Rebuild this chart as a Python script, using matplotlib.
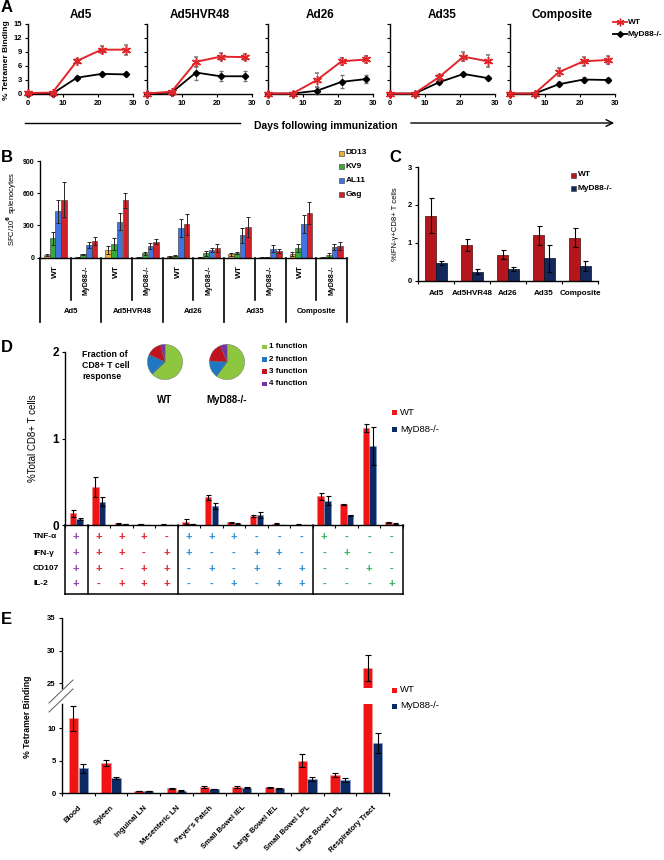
import matplotlib
matplotlib.use('Agg')
import matplotlib.pyplot as plt
import numpy as np
from matplotlib.lines import Line2D
from matplotlib.patches import FancyArrowPatch, Rectangle

plt.rcParams['font.family'] = ['Liberation Sans', 'DejaVu Sans']
plt.rcParams['font.weight'] = 'bold'
plt.rcParams['axes.linewidth'] = 1.0

# ---- panel A: tetramer kinetics
days = [0, 7, 14, 21, 28]
a_titles = ['Ad5', 'Ad5HVR48', 'Ad26', 'Ad35', 'Composite']
a_wt = [[0.2, 0.3, 7.1, 9.5, 9.5], [0.1, 0.5, 6.9, 8.0, 7.9], [0.1, 0.1, 3.0, 7.0, 7.4],
        [0.1, 0.1, 3.6, 8.0, 7.0], [0.1, 0.1, 4.7, 7.0, 7.3]]
a_wt_err = [[0.1, 0.2, 0.5, 0.8, 1.1], [0.1, 0.2, 1.1, 0.8, 0.7], [0.1, 0.1, 1.5, 0.7, 0.8],
            [0.1, 0.1, 0.5, 1.0, 1.3], [0.1, 0.1, 0.8, 0.9, 0.8]]
a_ko = [[0.1, 0.1, 3.5, 4.3, 4.2], [0.1, 0.3, 4.6, 3.8, 3.8], [0.1, 0.1, 0.7, 2.6, 3.2],
        [0.1, 0.1, 2.5, 4.3, 3.4], [0.1, 0.1, 2.1, 3.1, 3.0]]
a_ko_err = [[0.1, 0.1, 0.3, 0.3, 0.3], [0.1, 0.1, 1.5, 1.1, 1.1], [0.1, 0.1, 0.8, 1.4, 0.9],
            [0.1, 0.1, 0.4, 0.3, 0.3], [0.1, 0.1, 0.4, 0.6, 0.5]]

# ---- panel B: ELISPOT per peptide (WT, MyD88 for each vector)
b_peptides = ['DD13', 'KV9', 'AL11', 'Gag']
b_dd13 = [25, 5, 70, 5, 15, 8, 30, 2, 35, 5]
b_kv9 = [182, 30, 130, 40, 20, 40, 40, 5, 90, 25]
b_al11 = [431, 120, 335, 110, 275, 70, 210, 85, 315, 100]
b_gag = [541, 155, 535, 150, 310, 90, 285, 60, 415, 110]
b_dd13_err = [8, 2, 35, 2, 4, 3, 10, 1, 15, 2]
b_kv9_err = [60, 8, 55, 12, 5, 20, 10, 2, 40, 15]
b_al11_err = [110, 30, 80, 30, 85, 20, 70, 30, 85, 30]
b_gag_err = [160, 40, 70, 25, 100, 35, 90, 20, 105, 35]
b_genos = ['WT', 'MyD88-/-']

# ---- panel C: ICS IFN-g
c_wt = [1.71, 0.94, 0.68, 1.20, 1.13]
c_wt_err = [0.46, 0.15, 0.12, 0.25, 0.25]
c_ko = [0.46, 0.24, 0.30, 0.59, 0.39]
c_ko_err = [0.05, 0.07, 0.05, 0.35, 0.13]

# ---- panel D: polyfunctionality
d_wt = [0.135, 0.44, 0.02, 0.01, 0.005, 0.04, 0.32, 0.03, 0.10, 0.015, 0.005, 0.33, 0.24, 1.12, 0.03]
d_wt_err = [0.04, 0.12, 0.005, 0.003, 0.002, 0.03, 0.03, 0.01, 0.01, 0.005, 0.002, 0.04, 0.005, 0.05, 0.01]
d_ko = [0.07, 0.27, 0.008, 0.002, 0.002, 0.01, 0.22, 0.015, 0.115, 0.002, 0.002, 0.28, 0.11, 0.91, 0.015]
d_ko_err = [0.01, 0.05, 0.002, 0.001, 0.001, 0.003, 0.04, 0.003, 0.03, 0.001, 0.001, 0.05, 0.01, 0.22, 0.003]
d_rows = ['TNF-α', 'IFN-γ', 'CD107', 'IL-2']
d_tnf = '++++-+++---+---'
d_ifn = '+++-++--++--+--'
d_cd107 = '++-++-+-+-+--+-'
d_il2 = '+-+++--+-++---+'
d_nfunc = [4, 3, 3, 3, 3, 2, 2, 2, 2, 2, 2, 1, 1, 1, 1]
pie_labels = ['1 function', '2 function', '3 function', '4 function']
pie_wt = [63, 19, 14, 4]
pie_ko = [60, 16, 18, 6]

# ---- panel E: tissues
e_tissues = ['Blood', 'Spleen', 'Inguinal LN', 'Mesenteric LN', "Peyer's Patch", 'Small Bowel IEL',
             'Large Bowel IEL', 'Small Bowel LPL', 'Large Bowel LPL', 'Respiratory Tract']
e_wt = [11.5, 4.6, 0.3, 0.7, 0.9, 0.9, 0.85, 5.0, 2.8, 27.3]
e_wt_err = [1.9, 0.5, 0.05, 0.1, 0.15, 0.15, 0.1, 1.0, 0.3, 2.0]
e_ko = [3.8, 2.3, 0.3, 0.35, 0.6, 0.8, 0.7, 2.1, 2.0, 7.7]
e_ko_err = [0.7, 0.15, 0.03, 0.05, 0.05, 0.05, 0.05, 0.3, 0.3, 1.6]

W, H = 664, 860
fig = plt.figure(figsize=(W / 100, H / 100), dpi=100)


def fx(x):
    return x / W


def fy(y):
    return 1 - y / H


def box(l, t, r, b):
    return fig.add_axes([l / W, 1 - b / H, (r - l) / W, (b - t) / H])


def clean(ax):
    ax.spines['top'].set_visible(False)
    ax.spines['right'].set_visible(False)


def letter(x, y, s):
    fig.text(fx(x), fy(y), s, fontsize=12, fontweight='bold', ha='left', va='center')


red_a = '#e0262b'
red_c = '#b3171d'
navy_c = '#13295c'
red_e = '#f21414'
navy_e = '#0c2a64'

# ================= A
letter(1, 7, 'A')
a_left = [28, 147, 268, 390, 510]
for i, t in enumerate(a_titles):
    ax = box(a_left[i], 24, a_left[i] + 105, 94)
    clean(ax)
    ax.errorbar(days, a_ko[i], yerr=a_ko_err[i], color='k', marker='D', ms=3.2, lw=1.3,
                ecolor='0.45', elinewidth=0.6, capsize=1.3, clip_on=False, zorder=3)
    ax.errorbar(days, a_wt[i], yerr=a_wt_err[i], color=red_a, marker=(6, 2, 0), ms=6.5, mew=1.1,
                lw=1.4, ecolor='0.45', elinewidth=0.6, capsize=1.3, clip_on=False, zorder=4)
    ax.set_xlim(0, 30)
    ax.set_ylim(0, 15)
    ax.set_xticks([0, 10, 20, 30])
    ax.set_yticks(range(0, 16, 3))
    ax.tick_params(labelsize=5.5, length=2, width=0.8, pad=2)
    if i > 0:
        ax.set_yticklabels([])
    ax.set_title(t, fontsize=8.5, fontweight='bold', pad=4)
fig.text(fx(7), fy(60), '% Tetramer Binding', rotation=90, fontsize=6, ha='center', va='center')
fig.add_artist(Line2D([fx(25), fx(240)], [fy(123), fy(123)], color='k', lw=1))
fig.text(fx(326), fy(126), 'Days following immunization', fontsize=7.5, ha='center', va='center')
fig.add_artist(FancyArrowPatch((fx(408), fy(123)), (fx(617), fy(123)), transform=fig.transFigure,
                               arrowstyle='->', mutation_scale=12, lw=1, color='k'))
fig.add_artist(Line2D([fx(613), fx(620), fx(627)], [fy(22)] * 3, color=red_a, lw=1.3,
                      marker=(6, 2, 0), ms=5.5, markevery=[1]))
fig.text(fx(628), fy(22), 'WT', fontsize=6, va='center')
fig.add_artist(Line2D([fx(613), fx(620), fx(627)], [fy(34)] * 3, color='k', lw=1.3,
                      marker='D', ms=3, markevery=[1]))
fig.text(fx(628), fy(34), 'MyD88-/-', fontsize=6, va='center')

# ================= B
letter(1, 158, 'B')
axb = box(40, 161, 347, 257.7)
clean(axb)
b_vals = [b_dd13, b_kv9, b_al11, b_gag]
b_errs = [b_dd13_err, b_kv9_err, b_al11_err, b_gag_err]
b_colors = ['#e7b237', '#39a93a', '#3e74df', '#d0202a']
xb = np.arange(10) + 0.5
for k in range(4):
    axb.bar(xb + (k - 1.5) * 0.185, b_vals[k], 0.18, yerr=b_errs[k], color=b_colors[k],
            edgecolor='#333333', linewidth=0.4, error_kw=dict(elinewidth=0.7, capsize=1.5, capthick=0.7,
                                                             ecolor='0.15'), zorder=2)
axb.set_xlim(0, 10)
axb.set_ylim(0, 900)
axb.set_yticks([0, 300, 600, 900])
axb.set_xticks([])
axb.tick_params(labelsize=5, length=2, width=0.8, pad=2)
axb.set_ylabel('SFC/10$^{\\mathbf{6}}$ splenocytes', fontsize=5.5, labelpad=3)
tb = axb.get_xaxis_transform()
for j in range(6):
    axb.plot([2 * j, 2 * j], [0, -0.665], color='k', lw=1.2, transform=tb, clip_on=False)
for j in range(5):
    axb.plot([2 * j + 1, 2 * j + 1], [0, -0.44], color='k', lw=1.2, transform=tb, clip_on=False)
    axb.text(2 * j + 1, -0.56, a_titles[j], transform=tb, fontsize=5.5, ha='center', va='center')
for j in range(10):
    axb.text(j + 0.5, -0.08, b_genos[j % 2], transform=tb, rotation=90, ha='center', va='top',
             fontsize=6 if j % 2 == 0 else 5)
for k, p in enumerate(b_peptides):
    y = 153 + k * 13.7
    fig.add_artist(Rectangle((fx(339), fy(y + 2.5)), 5 / W, 5 / H, facecolor=b_colors[k],
                             edgecolor='#333333', lw=0.4, transform=fig.transFigure))
    fig.text(fx(346), fy(y), p, fontsize=6, va='center')

# ================= C
letter(389, 158, 'C')
axc = box(418, 167, 598, 280.7)
clean(axc)
xc = np.arange(5) + 0.5
axc.bar(xc - 0.15, c_wt, 0.29, yerr=c_wt_err, color=red_c, edgecolor='#4a0a0a', linewidth=0.5,
        error_kw=dict(elinewidth=0.8, capsize=1.8, capthick=0.8))
axc.bar(xc + 0.15, c_ko, 0.29, yerr=c_ko_err, color=navy_c, edgecolor='#050d20', linewidth=0.5,
        error_kw=dict(elinewidth=0.8, capsize=1.8, capthick=0.8))
axc.set_xlim(0, 5)
axc.set_ylim(0, 3)
axc.set_yticks([0, 1, 2, 3])
axc.set_xticks(np.arange(6))
axc.set_xticklabels([])
axc.set_xticks(xc, minor=True)
axc.set_xticklabels(a_titles, minor=True)
axc.tick_params(which='major', length=2.5, width=0.8, labelsize=5.5, pad=2)
axc.tick_params(which='minor', length=0, labelsize=5.8, pad=7)
axc.set_ylabel('%IFN-γ+CD8+ T cells', fontsize=5.5, labelpad=6)
for k, (lab, col) in enumerate([('WT', red_c), ('MyD88-/-', navy_c)]):
    y = 175 + k * 13
    fig.add_artist(Rectangle((fx(571), fy(y + 2.5)), 5 / W, 5 / H, facecolor=col,
                             edgecolor='#333333', lw=0.4, transform=fig.transFigure))
    fig.text(fx(578), fy(y), lab, fontsize=6, va='center')

# ================= D
letter(1, 348, 'D')
axd = box(65, 352, 403, 525)
clean(axd)
xd = np.arange(15) + 0.5
axd.bar(xd - 0.15, d_wt, 0.29, yerr=d_wt_err, color=red_e, edgecolor='#f58080', linewidth=0.4,
        error_kw=dict(elinewidth=0.8, capsize=1.8, capthick=0.8))
axd.bar(xd + 0.15, d_ko, 0.29, yerr=d_ko_err, color=navy_e, edgecolor='#7f9ccf', linewidth=0.4,
        error_kw=dict(elinewidth=0.8, capsize=1.8, capthick=0.8))
axd.set_xlim(0, 15)
axd.set_ylim(0, 2)
axd.set_yticks([0, 1, 2])
axd.set_xticks(np.arange(16))
axd.set_xticklabels([])
axd.tick_params(axis='x', length=2.5, width=0.8)
axd.tick_params(axis='y', length=2.5, width=0.8, labelsize=8.5, pad=2)
axd.set_ylabel('%Total CD8+ T cells', fontsize=7, fontweight='normal', labelpad=10)
td = axd.get_xaxis_transform()
row_y = [-0.069, -0.162, -0.254, -0.341]
func_cols = {4: '#8b3fb0', 3: '#e8202a', 2: '#2b8fd1', 1: '#2fb25a'}
for r, combo in enumerate([d_tnf, d_ifn, d_cd107, d_il2]):
    fig.text(fx(33), fy(525 - row_y[r] * 173), d_rows[r], fontsize=6, va='center')
    for c, s in enumerate(combo):
        axd.text(xd[c], row_y[r], s, transform=td, ha='center', va='center', fontsize=8,
                 fontweight='bold', color=func_cols[d_nfunc[c]])
for xv in [0, 1, 5, 11, 15]:
    axd.plot([xv, xv], [0, -0.399], color='k', lw=1.1, transform=td, clip_on=False)
axd.plot([0, 15], [-0.399, -0.399], color='k', lw=1.1, transform=td, clip_on=False)
# pies
pie_cols = ['#8dc63f', '#1f78c1', '#c1121f', '#7a2fa6']
for cx, vals, lab in [(165, pie_wt, 'WT'), (227, pie_ko, 'MyD88-/-')]:
    axp = box(cx - 22, 340, cx + 22, 384)
    axp.pie(vals, colors=pie_cols, startangle=90, counterclock=False,
            wedgeprops=dict(linewidth=0.3, edgecolor='#666666'))
    axp.set_aspect('equal')
    fig.text(fx(cx), fy(400), lab, fontsize=7, ha='center', va='center')
fig.text(fx(82), fy(350), 'Fraction of\nCD8+ T cell\nresponse', fontsize=6.3, va='top',
         linespacing=1.3)
for k, lab in enumerate(pie_labels):
    y = 347 + k * 12.3
    fig.add_artist(Rectangle((fx(262), fy(y + 2.3)), 4.6 / W, 4.6 / H, facecolor=pie_cols[k],
                             edgecolor='none', transform=fig.transFigure))
    fig.text(fx(269), fy(y), lab, fontsize=5.8, va='center')
for k, (lab, col) in enumerate([('WT', red_e), ('MyD88-/-', navy_e)]):
    y = 413 + k * 16
    fig.add_artist(Rectangle((fx(392), fy(y + 2.5)), 5 / W, 5 / H, facecolor=col,
                             edgecolor='none', transform=fig.transFigure))
    fig.text(fx(400), fy(y), lab, fontsize=6.8, fontweight='normal', va='center')

# ================= E
letter(1, 619, 'E')
ax_lo = box(62, 704, 389, 793)
ax_hi = box(62, 618, 389, 688)
xe = np.arange(10) + 0.5
for ax in (ax_lo, ax_hi):
    clean(ax)
    ax.bar(xe - 0.15, e_wt, 0.29, yerr=e_wt_err, color=red_e, edgecolor='#f7a0a0', linewidth=0.4,
           error_kw=dict(elinewidth=0.8, capsize=2, capthick=0.8))
    ax.bar(xe + 0.15, e_ko, 0.29, yerr=e_ko_err, color=navy_e, edgecolor='#8aa4d4', linewidth=0.4,
           error_kw=dict(elinewidth=0.8, capsize=2, capthick=0.8))
    ax.set_xlim(0, 10)
    ax.tick_params(axis='y', length=2.5, width=0.8, labelsize=5.5, pad=2)
ax_lo.set_ylim(0, 13.7)
ax_lo.set_yticks([0, 5, 10])
ax_hi.set_ylim(24.3, 35)
ax_hi.set_yticks([25, 30, 35])
ax_hi.spines['bottom'].set_visible(False)
ax_hi.set_xticks([])
ax_lo.set_xticks(np.arange(11))
ax_lo.set_xticklabels([])
ax_lo.set_xticks(xe, minor=True)
ax_lo.set_xticklabels(e_tissues, minor=True, rotation=45, ha='right', rotation_mode='anchor')
ax_lo.tick_params(axis='x', which='major', length=2.5, width=0.8)
ax_lo.tick_params(axis='x', which='minor', length=0, labelsize=5.5, pad=8)
fig.text(fx(28), fy(717), '% Tetramer Binding', rotation=90, fontsize=6.3, ha='center', va='center')
fig.add_artist(Line2D([fx(49), fx(73)], [fy(703), fy(680)], color='0.35', lw=0.7))
fig.add_artist(Line2D([fx(49), fx(73)], [fy(712), fy(689)], color='0.35', lw=0.7))
for k, (lab, col) in enumerate([('WT', red_e), ('MyD88-/-', navy_e)]):
    y = 690 + k * 16
    fig.add_artist(Rectangle((fx(392), fy(y + 2.5)), 5 / W, 5 / H, facecolor=col,
                             edgecolor='none', transform=fig.transFigure))
    fig.text(fx(400), fy(y), lab, fontsize=6.8, fontweight='normal', va='center')

fig.savefig('out.png', dpi=100)
